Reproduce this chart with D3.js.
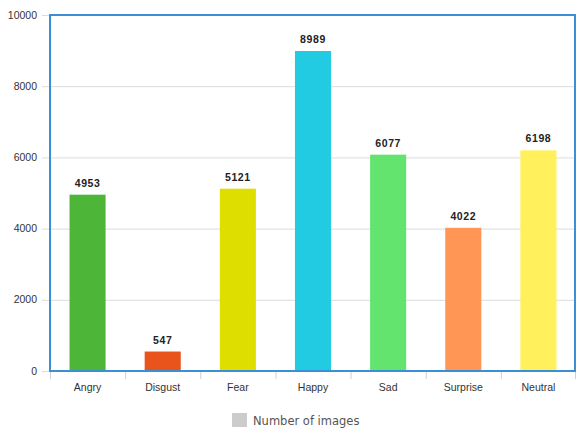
<!DOCTYPE html>
<html>
<head>
<meta charset="utf-8">
<script src="https://cdn.jsdelivr.net/npm/d3@7"></script>
<style>
  body { margin: 0; background: #fff; }
  svg { display: block; font-family: "Liberation Sans", Arial, sans-serif; }
</style>
</head>
<body>
<div id="chart"></div>
<script>
const categories = ["Angry", "Disgust", "Fear", "Happy", "Sad", "Surprise", "Neutral"];
const counts = [4953, 547, 5121, 8989, 6077, 4022, 6198];
const barColors = ["#4db537", "#e8541c", "#dede00", "#22cbe2", "#63e46f", "#ff9655", "#fff05c"];
const yTicks = [0, 2000, 4000, 6000, 8000, 10000];
const legendLabel = "Number of images";

const W = 576, H = 430;
const margin = {top: 15, right: 0, bottom: 59, left: 50};
const width = W - margin.left - margin.right;
const height = H - margin.top - margin.bottom;

const svg = d3.select("#chart").append("svg")
    .attr("width", W)
    .attr("height", H);

const g = svg.append("g")
    .attr("transform", `translate(${margin.left},${margin.top})`);

const x = d3.scaleBand()
    .domain(categories)
    .range([0, width])
    .paddingInner(0.52)
    .paddingOuter(0.26);

const band = d3.scaleBand().domain(categories).range([0, width]);

const y = d3.scaleLinear()
    .domain([0, 10000])
    .range([height, 0]);

// gridlines
g.append("g")
  .selectAll("line")
  .data(yTicks)
  .join("line")
    .attr("x1", -8)
    .attr("x2", width)
    .attr("y1", d => y(d) + 0.5)
    .attr("y2", d => y(d) + 0.5)
    .attr("stroke", "#dcdcdc")
    .attr("stroke-width", 1);

// y labels
g.append("g")
  .selectAll("text")
  .data(yTicks)
  .join("text")
    .attr("x", -13)
    .attr("y", d => y(d))
    .attr("dy", "0.35em")
    .attr("text-anchor", "end")
    .attr("font-size", 10.5)
    .attr("fill", "#333")
    .text(d => d);

// category ticks
g.append("g")
  .selectAll("line")
  .data(categories.concat(["end"]))
  .join("line")
    .attr("x1", (d, i) => i < categories.length ? band(d) + 0.5 : width - 0.5)
    .attr("x2", (d, i) => i < categories.length ? band(d) + 0.5 : width - 0.5)
    .attr("y1", height)
    .attr("y2", height + 8)
    .attr("stroke", "#cfcfcf");

// bars
g.append("g")
  .selectAll("rect")
  .data(counts)
  .join("rect")
    .attr("x", (d, i) => x(categories[i]))
    .attr("y", d => y(d))
    .attr("width", x.bandwidth())
    .attr("height", d => height - y(d))
    .attr("fill", (d, i) => barColors[i]);

// value labels
g.append("g")
  .selectAll("text")
  .data(counts)
  .join("text")
    .attr("x", (d, i) => x(categories[i]) + x.bandwidth() / 2)
    .attr("y", d => y(d) - 8)
    .attr("text-anchor", "middle")
    .attr("font-size", 10.5)
    .attr("font-weight", "bold")
    .attr("letter-spacing", 0.6)
    .attr("fill", "#222")
    .text(d => d);

// category labels
g.append("g")
  .selectAll("text")
  .data(categories)
  .join("text")
    .attr("x", d => band(d) + band.bandwidth() / 2)
    .attr("y", height + 20)
    .attr("text-anchor", "middle")
    .attr("font-size", 10.5)
    .attr("fill", "#333")
    .text(d => d);

// plot frame
g.append("rect")
    .attr("x", 0)
    .attr("y", 0)
    .attr("width", width - 1)
    .attr("height", height)
    .attr("fill", "none")
    .attr("stroke", "#3b8fd5")
    .attr("stroke-width", 2);

// legend
const legend = svg.append("g").attr("transform", "translate(232,413)");
legend.append("rect")
    .attr("width", 15)
    .attr("height", 14)
    .attr("fill", "#cccccc");
legend.append("text")
    .attr("x", 21)
    .attr("y", 12)
    .attr("font-family", "DejaVu Sans, sans-serif")
    .attr("font-size", 11.5)
    .attr("fill", "#555")
    .text(legendLabel);
</script>
</body>
</html>
